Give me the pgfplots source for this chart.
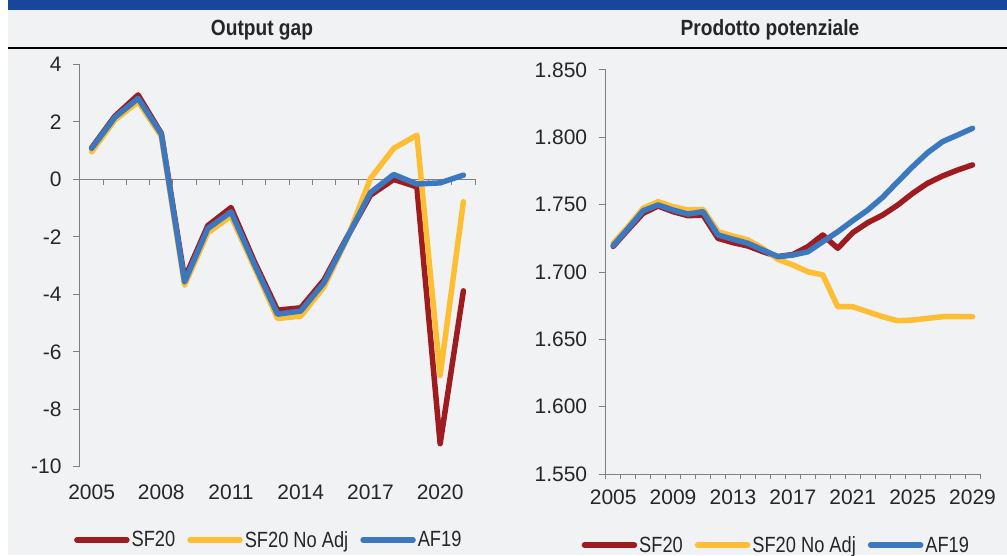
\documentclass[border=0pt]{standalone}
\usepackage{pgfplots}
\pgfplotsset{compat=1.18}
\usepackage{fontspec}
\setmainfont{Liberation Sans}
\newfontfamily\narrowfont[FakeStretch=0.87]{Liberation Sans}
\newfontfamily\legfont[FakeStretch=0.83]{Liberation Sans}
\definecolor{bg}{HTML}{F0F2F4}
\definecolor{topbar}{HTML}{17469A}
\definecolor{txt}{HTML}{262626}
\definecolor{axgray}{HTML}{808080}
\definecolor{sfred}{HTML}{9E1B20}
\definecolor{sfyel}{HTML}{FDBE33}
\definecolor{afblue}{HTML}{3B78BF}

\pgfplotstableread{
year sf noadj af
2005  1.10  0.96  1.08
2006  2.20  2.07  2.16
2007  2.94  2.70  2.82
2008  1.60  1.50  1.58
2009 -3.45 -3.68 -3.57
2010 -1.61 -1.86 -1.71
2011 -0.98 -1.28 -1.13
2012 -2.85 -3.05 -2.95
2013 -4.55 -4.84 -4.69
2014 -4.47 -4.76 -4.58
2015 -3.50 -3.74 -3.60
2016 -2.00 -2.05 -2.02
2017 -0.55  0.03 -0.46
2018  0.00  1.08  0.17
2019 -0.26  1.54 -0.16
2020 -9.20 -6.82 -0.12
2021 -3.88 -0.78  0.15
}\gaptab

\pgfplotstableread{
year sf noadj af
2005 1719.0 1721.3 1719.6
2006 1731.5 1733.7 1732.4
2007 1743.6 1747.3 1745.5
2008 1749.0 1752.2 1749.8
2009 1744.8 1748.5 1746.0
2010 1741.8 1746.0 1743.0
2011 1742.3 1746.5 1744.8
2012 1725.0 1730.0 1727.5
2013 1721.8 1726.7 1724.3
2014 1719.3 1723.8 1721.3
2015 1715.1 1717.6 1716.3
2016 1711.4 1709.4 1711.4
2017 1713.0 1705.2 1712.6
2018 1718.8 1700.2 1715.0
2019 1727.5 1697.8 1722.5
2020 1717.6 1674.2 1729.9
2021 1729.2 1674.2 1738.1
2022 1736.6 1670.5 1746.0
2023 1742.3 1666.8 1755.5
2024 1749.7 1663.8 1767.0
2025 1758.4 1664.3 1778.2
2026 1765.9 1665.6 1788.6
2027 1771.3 1666.8 1796.8
2028 1775.7 1666.8 1801.7
2029 1779.5 1666.8 1806.7
}\pottab

\pgfplotsset{
  pannello/.style={
    scale only axis, clip=false,
    axis x line*=bottom, axis y line*=left,
    axis line style={-, draw=axgray, line width=1pt},
    tick style={draw=axgray, line width=1pt},
    tick align=outside, major tick length=7pt,
    ticklabel style={font=\fontsize{21}{25}\selectfont, text=txt},
    yticklabel style={xshift=-8pt},
    /pgf/number format/assume math mode=true,
    legend columns=3,
    legend style={draw=none, fill=none, anchor=center,
      font=\legfont\fontsize{22}{26}\selectfont, text=txt,
      /tikz/every even column/.append style={column sep=10pt},
      nodes={inner sep=2pt}},
    legend image code/.code={\draw[##1] (0pt,0pt) -- (50pt,0pt);},
  },
  serie/.style={line width=5.5pt, line join=round, line cap=round},
}

\begin{document}
\begin{tikzpicture}
\useasboundingbox (0pt,0pt) rectangle (1007pt,555pt);
\fill[bg] (8pt,0pt) rectangle (1007pt,555pt);
\fill[topbar] (8pt,545pt) rectangle (1007pt,555pt);
\draw[black, line width=1.5pt] (8pt,507pt) -- (1007pt,507pt);
\node[font=\narrowfont\bfseries\fontsize{22}{26}\selectfont, text=txt] at (262pt,525pt) {Output gap};
\node[font=\narrowfont\bfseries\fontsize{22}{26}\selectfont, text=txt] at (770pt,525pt) {Prodotto potenziale};

\begin{axis}[pannello, at={(80pt,88.3pt)}, anchor=south west,
  width=395pt, height=402.2pt,
  xmin=2004.5, xmax=2021.5, ymin=-10, ymax=4,
  ytick={-10,-8,...,4},
  xtick={2005,2008,2011,2014,2017,2020},
  xticklabels={2005,2008,2011,2014,2017,2020},
  x axis line style={draw=none}, xtick style={draw=none},
  xticklabel style={yshift=-8pt},
  legend style={at={(0.478,-0.182)}}]
  \draw[axgray, line width=1pt] (axis cs:2004.5,0) -- (axis cs:2021.5,0);
  \pgfplotsinvokeforeach{2004.5,2005.5,...,2021.5}{
    \draw[axgray, line width=1pt] (axis cs:#1,0) -- ++(0pt,-6pt);}
  \addplot[serie, sfred] table[x=year, y=sf] {\gaptab};
  \addplot[serie, sfyel] table[x=year, y=noadj] {\gaptab};
  \addplot[serie, afblue] table[x=year, y=af] {\gaptab};
  \legend{SF20, SF20 No Adj, AF19}
\end{axis}

\begin{axis}[pannello, at={(605.7pt,81pt)}, anchor=south west,
  width=374.3pt, height=404pt,
  xmin=2004.5, xmax=2029.5, ymin=1550, ymax=1850,
  ytick={1550,1600,...,1850},
  yticklabel style={/pgf/number format/1000 sep={.}},
  xtick={2005,2009,2013,2017,2021,2025,2029},
  xticklabels={2005,2009,2013,2017,2021,2025,2029},
  xticklabel style={yshift=-5pt},
  major x tick style={draw=none},
  minor xtick={2004.5,2005.5,...,2029.5},
  minor tick length=5pt,
  legend style={at={(0.456,-0.176)}}]
  \addplot[serie, sfred] table[x=year, y=sf] {\pottab};
  \addplot[serie, sfyel] table[x=year, y=noadj] {\pottab};
  \addplot[serie, afblue] table[x=year, y=af] {\pottab};
  \legend{SF20, SF20 No Adj, AF19}
\end{axis}
\end{tikzpicture}
\end{document}
